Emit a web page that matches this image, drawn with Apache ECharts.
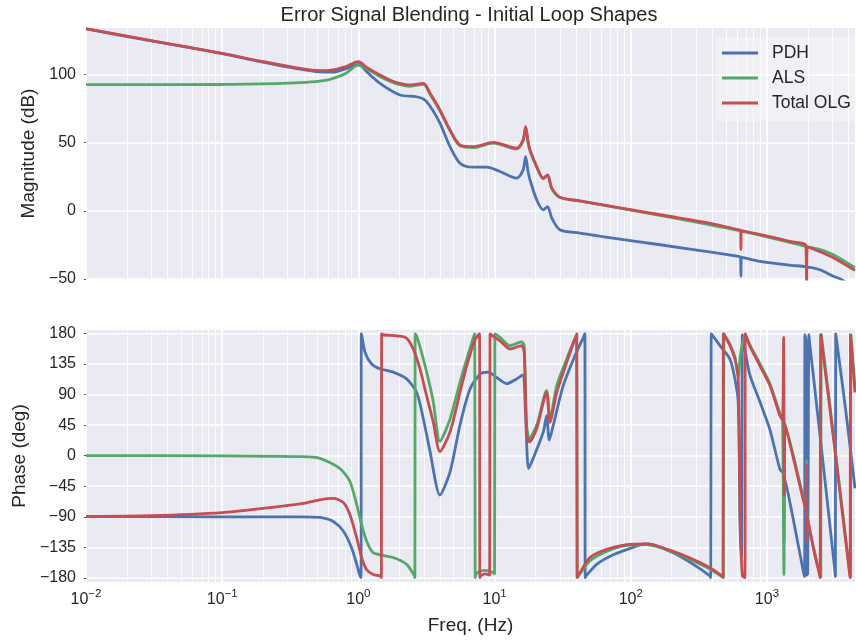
<!DOCTYPE html>
<html>
<head>
<meta charset="utf-8">
<title>Error Signal Blending - Initial Loop Shapes</title>
<script src="https://cdn.jsdelivr.net/npm/echarts@6.0.0/dist/echarts.min.js"></script>
<style>
  html, body { margin: 0; padding: 0; background: #fff; }
  #chart { width: 856px; height: 641px; }
</style>
</head>
<body>
<div id="chart"></div>
<script>
// [freq (Hz), value]
const seriesNames = ['PDH', 'ALS', 'Total OLG']
const seriesColors = ['#4c72b0', '#55a868', '#c44e52']

const magPDH = [
  [0.01, 133.3], [0.0316, 124.2], [0.1, 115.2], [0.19, 109.4], [0.373, 103.8], [0.522, 101.8],
  [0.65, 101.6], [0.8, 104], [1.0, 107.3], [1.15, 102], [1.44, 93.4], [2.02, 84.9], [2.68, 83.6],
  [3.08, 81.2], [3.55, 73], [3.97, 64.2], [4.71, 47], [5.57, 34.9], [6.98, 32], [8.75, 32],
  [10.95, 28.8], [14.5, 23.9], [16.2, 30], [16.9, 39.7], [17.6, 29], [18.2, 22.7], [20.4, 8],
  [22.8, 0.7], [24.5, 3.1], [26.3, -5.3], [30.2, -13.9], [42.4, -16.3], [60, -18.8], [164, -24.9],
  [400, -30.5], [620, -33.5], [640, -33.8], [644, -48], [648, -34], [670, -34.3], [889, -37.1],
  [1500, -40], [1930, -41], [1956, -43], [1980, -41.3], [2450, -43.2], [3070, -48], [3540, -50.5],
  [4430, -58]
]
const magALS = [
  [0.01, 92.5], [0.1, 92.6], [0.25, 93.2], [0.373, 93.9], [0.52, 95], [0.62, 96.4], [0.8, 100.5],
  [1.0, 106.8], [1.15, 104.2], [1.44, 98.5], [1.7, 95], [2.02, 92.4], [2.39, 91.3], [3.0, 92.7],
  [3.36, 85.4], [3.97, 73.2], [4.71, 58.6], [5.57, 47.6], [6.98, 46.3], [9.78, 49.6], [14.5, 45.3],
  [16.2, 51.4], [16.9, 61.2], [17.6, 50.5], [18.2, 44], [20.4, 32], [22.8, 23.5], [24.5, 26],
  [26.3, 16.3], [30.2, 9.7], [42.4, 7], [164, -3.3], [644, -14.8], [1956, -26.2], [2450, -28.5],
  [3070, -32.2], [4430, -41.7]
]
const magTotal = [
  [0.01, 133.5], [0.0316, 124.4], [0.1, 115.4], [0.19, 109.8], [0.373, 104.4], [0.522, 102.8],
  [0.62, 103], [0.8, 105.6], [1.0, 109.3], [1.15, 105.1], [1.44, 99.5], [1.7, 95.9], [2.02, 93.4],
  [2.39, 92.2], [3.0, 93.4], [3.36, 86.1], [3.97, 73.9], [4.71, 59.3], [5.57, 48.3], [6.98, 47],
  [9.78, 50.2], [14.5, 45.9], [16.2, 52], [16.9, 61.7], [17.6, 51], [18.2, 44.6], [20.4, 32.4],
  [22.8, 23.9], [24.5, 26.3], [26.3, 16.6], [30.2, 10], [42.4, 7.3], [164, -2.9], [400, -9.5],
  [620, -13.9], [640, -14.2], [644, -28.5], [648, -14.6], [670, -14.9], [1000, -18.5], [1500, -22.6],
  [1930, -25.8], [1956, -60], [1980, -26.5], [2450, -30], [3070, -34.4], [4430, -43.7]
]

const phasePDH = [
  [0.01, -89.6], [0.1, -90], [0.373, -90], [0.522, -91], [0.654, -97], [0.775, -111], [0.893, -136],
  [0.972, -160], [1.027, -177], [1.045, -179.5], [1.05, 179.5], [1.06, 176], [1.12, 152], [1.25, 135],
  [1.44, 128], [1.8, 123], [2.26, 113], [2.68, 93], [3.0, 54], [3.36, 6], [3.97, -58], [4.71, -24],
  [5.57, 45], [6.6, 98], [7.82, 120], [8.98, 123], [10.36, 115], [12.27, 106], [14.5, 113],
  [16.07, 119], [16.9, 60], [17.75, -19], [19.2, -4], [22.8, 35], [24.1, 59], [25.2, 23], [27.0, 45],
  [31.9, 103], [38.9, 147], [45.3, 176], [46, 179.5], [46.3, -179.5], [47, -177], [56.2, -160],
  [74.4, -146], [104, -135], [127, -130], [146, -131], [205, -143], [288, -160], [381, -177],
  [386, -179.5], [390, 179.5], [393, 179], [452, 162], [535, 142], [582, 113], [615, 79], [634, -97],
  [650, -150], [660, 178], [670, 171], [746, 120], [889, 79], [1052, 38], [1245, -20], [1318, -26],
  [1335, -128], [1350, -32], [1600, -105], [1847, -170], [1890, -178], [1900, 178], [1930, 170],
  [1950, -176], [1990, -174], [2030, 178], [2042, 172], [2449, 31], [3155, -170], [3180, -178],
  [3200, 179], [3800, 64], [4430, -48]
]
const phaseALS = [
  [0.01, 0], [0.1, -0.3], [0.373, -1.5], [0.522, -4], [0.733, -19], [0.867, -38], [0.972, -72],
  [1.057, -102], [1.15, -126], [1.286, -143], [1.8, -150], [2.26, -160], [2.55, -175], [2.6, -179.5],
  [2.61, 179.5], [2.68, 176], [2.91, 152], [3.26, 113], [3.55, 79], [3.97, 21], [4.71, 54],
  [5.57, 108], [6.24, 142], [6.98, 174], [7.15, 179.5], [7.2, -179.5], [7.4, -173], [8.3, -169],
  [9.5, -171], [10.0, -174], [10.05, 179.5], [10.95, 174], [12.97, 162], [15.8, 167.6], [16.5, 162],
  [17.2, 45], [18.0, 25], [20.4, 45], [24.1, 96], [25.5, 54], [28.6, 103], [33.8, 142], [40.1, 179.5],
  [40.4, -179.5], [41.6, -176], [50.1, -155], [66.5, -141], [93.3, -132], [131, -131], [205, -142],
  [288, -155], [381, -167], [478, -179.5], [482, 179.5], [535, 164], [582, 145], [615, 116],
  [640, 150], [695, 178], [746, 164], [889, 135], [1052, 106], [1245, 62], [1300, 55], [1333, -175],
  [1360, 48], [1652, -20], [1847, -62], [1950, -80], [1955, -7], [1965, -85], [2200, -135],
  [2470, -178], [2485, -179.5], [2500, 179.5], [3155, 12], [4090, -177], [4110, -179.5],
  [4130, 179.5], [4430, 98]
]
const phaseTotal = [
  [0.01, -89.6], [0.03, -88.5], [0.1, -84], [0.212, -77], [0.373, -71], [0.522, -65], [0.654, -63],
  [0.775, -69], [0.867, -87], [0.972, -121], [1.057, -150], [1.15, -168], [1.286, -175], [1.44, -177],
  [1.475, -179.5], [1.48, 179.5], [1.52, 178], [2.02, 176], [2.26, 173], [2.53, 157], [2.83, 128],
  [3.17, 88], [3.55, 49], [3.97, 6], [4.71, 35], [5.57, 93], [6.24, 132], [7.18, 171], [7.75, 179.5],
  [7.8, -179.5], [7.9, -177], [8.5, -174], [9.2, -176], [9.25, 179.5], [9.4, 178], [10.95, 169],
  [12.97, 157], [15.8, 162], [16.5, 152], [17.2, 30], [18.0, 20], [20.4, 40], [24.1, 93], [25.5, 49],
  [28.6, 93], [33.8, 137], [40.1, 179.5], [40.4, -179.5], [41.6, -175], [50.1, -150], [66.5, -138],
  [93.3, -131], [131, -130], [205, -141], [288, -153], [381, -165], [473, -178], [476, -179.5],
  [478, 179.5], [535, 162], [582, 142], [615, 113], [636, -97], [660, -177], [690, -179.5],
  [693, 179.5], [701, 176], [746, 162], [889, 132], [1052, 103], [1245, 59], [1300, 52], [1325, 174],
  [1340, -58], [1360, 45], [1652, -24], [1847, -65], [1950, -82], [1955, -14], [1958, -126],
  [1965, -88], [2200, -138], [2449, -178], [2460, -179.5], [2478, 179.5], [3155, 8], [4064, -178],
  [4080, -179.5], [4100, 179.5], [4430, 93]
]

const magTicks = [-50, 0, 50, 100]
const phaseTicks = [-180, -135, -90, -45, 0, 45, 90, 135, 180]
const decadeTicks = [-2, -1, 0, 1, 2, 3]   // exponents of 10
const freqMin = 0.01
const freqMax = 4430

// the frequency axis is drawn in log10 units
const lg = Math.log10
const toLog = arr => arr.map(p => [lg(p[0]), p[1]])

// minor grid positions 2..9 x 10^n
const minorFreqs = []
for (let e = -2; e <= 3; e++) {
    for (let k = 2; k <= 9; k++) {
        const v = k * Math.pow(10, e)
        if (v < freqMax) minorFreqs.push(lg(v))
    }
}

const txt = '#262626'
const font = 'Liberation Sans'
const fmtNum = v => (v < 0 ? '\u2212' + (-v) : '' + v)

const chart = echarts.init(document.getElementById('chart'))

function xAxisCfg(gridIndex, withLabels) {
    return {
        type: 'value',
        gridIndex: gridIndex,
        min: lg(freqMin),
        max: lg(freqMax),
        axisLine: { show: false, onZero: false },
        axisTick: { show: false, customValues: decadeTicks },
        splitLine: { show: true, lineStyle: { color: '#fff', width: 1.6 } },
        axisLabel: withLabels ? {
            customValues: decadeTicks,
            margin: 6,
            formatter: v => '{b|10}{s|' + fmtNum(Math.round(v)) + '}',
            rich: {
                b: { fontSize: 16, color: txt, lineHeight: 24, fontFamily: font },
                s: { fontSize: 11.5, color: txt, lineHeight: 10, verticalAlign: 'top', fontFamily: font }
            }
        } : { show: false, customValues: decadeTicks },
        name: withLabels ? 'Freq. (Hz)' : '',
        nameLocation: 'middle',
        nameGap: 34,
        nameTextStyle: { fontSize: 19, color: txt, fontFamily: font }
    }
}

function yAxisCfg(gridIndex, min, max, ticks, name, gap) {
    return {
        type: 'value',
        gridIndex: gridIndex,
        min: min,
        max: max,
        name: name,
        nameLocation: 'middle',
        nameGap: gap,
        nameTextStyle: { fontSize: 19, color: txt, fontFamily: font },
        axisLine: { show: false, onZero: false },
        axisTick: { show: true, length: 2, customValues: ticks, lineStyle: { color: '#555', width: 1 } },
        axisLabel: { customValues: ticks, formatter: fmtNum, fontSize: 16, color: txt, margin: 10, fontFamily: font },
        splitLine: { show: true, lineStyle: { color: '#fff', width: 1.6 } }
    }
}

function minorGridSeries(idx) {
    return {
        type: 'line',
        xAxisIndex: idx,
        yAxisIndex: idx,
        data: [],
        silent: true,
        markLine: {
            silent: true,
            symbol: ['none', 'none'],
            label: { show: false },
            animation: false,
            z: 1,
            lineStyle: { color: '#fff', width: 0.8, type: 'solid' },
            data: minorFreqs.map(v => ({ xAxis: v }))
        }
    }
}

function curve(name, color, data, idx, smooth) {
    return {
        name: name,
        type: 'line',
        xAxisIndex: idx,
        yAxisIndex: idx,
        data: toLog(data),
        color: color,
        symbol: 'none',
        smooth: smooth,
        clip: true,
        z: 3,
        lineStyle: { width: 2.8, color: color },
        emphasis: { disabled: true }
    }
}

const magData = [magPDH, magALS, magTotal]
const phaseData = [phasePDH, phaseALS, phaseTotal]

chart.setOption({
    animation: false,
    textStyle: { fontFamily: font },
    title: {
        text: 'Error Signal Blending - Initial Loop Shapes',
        left: 469,
        top: 5,
        textAlign: 'center',
        padding: 0,
        textStyle: { fontSize: 20, fontWeight: 'normal', color: txt, fontFamily: font }
    },
    legend: {
        data: seriesNames,
        orient: 'vertical',
        left: 716,
        top: 37,
        padding: [7, 12, 9, 6],
        itemWidth: 36,
        itemHeight: 3,
        itemGap: 7,
        icon: 'rect',
        backgroundColor: 'rgba(255,255,255,0.28)',
        textStyle: { fontSize: 17.5, color: txt, lineHeight: 16, padding: [0, 0, 0, 9], fontFamily: font }
    },
    grid: [
        { left: 86, right: 1, top: 28, height: 251, show: true, backgroundColor: '#eaeaf2', borderWidth: 0 },
        { left: 86, right: 1, top: 330, height: 252, show: true, backgroundColor: '#eaeaf2', borderWidth: 0 }
    ],
    xAxis: [xAxisCfg(0, false), xAxisCfg(1, true)],
    yAxis: [
        yAxisCfg(0, -50, 134, magTicks, 'Magnitude (dB)', 44),
        yAxisCfg(1, -186, 185, phaseTicks, 'Phase (deg)', 55)
    ],
    series: [
        minorGridSeries(0),
        minorGridSeries(1),
        ...seriesNames.map((n, i) => curve(n, seriesColors[i], magData[i], 0, 0.3)),
        ...seriesNames.map((n, i) => curve(n, seriesColors[i], phaseData[i], 1, 0.25))
    ]
})
</script>
</body>
</html>
